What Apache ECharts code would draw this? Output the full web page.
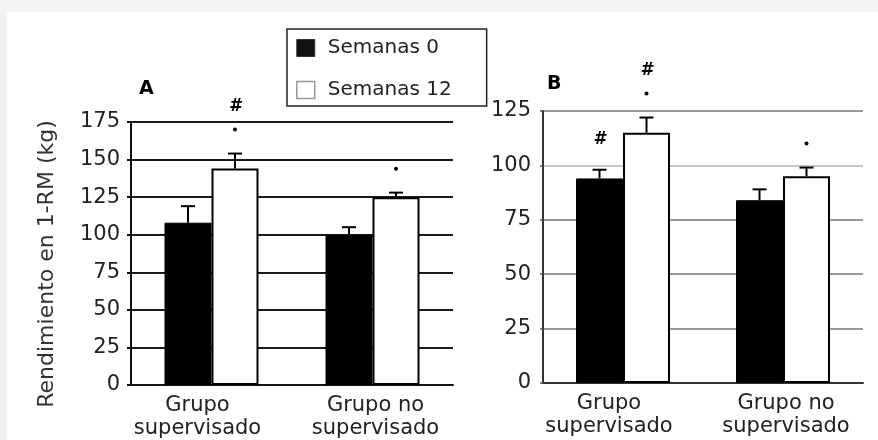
<!DOCTYPE html>
<html>
<head>
<meta charset="utf-8">
<script src="https://cdn.jsdelivr.net/npm/echarts@6/dist/echarts.min.js"></script>
<style>
html,body{margin:0;padding:0;background:#f2f2f2;}
#wrap{position:absolute;left:7px;top:12px;width:871px;height:428px;background:#fff;}
#chart{position:absolute;left:0;top:0;width:878px;height:440px;}
</style>
</head>
<body>
<div id="wrap"></div>
<div id="chart"></div>
<script>
// ---- data ----
const categories = ['Grupo\nsupervisado', 'Grupo no\nsupervisado'];
const seriesNames = ['Semanas 0', 'Semanas 12'];
// Panel A (kg)
const panelA_week0 = [108, 100];
const panelA_week0_errTop = [119, 105];
const panelA_week12 = [144, 125];
const panelA_week12_errTop = [154, 128];
const panelA_week0_sig = ['', ''];
const panelA_week12_sig = ['*#', '*'];
// Panel B (kg)
const panelB_week0 = [94, 84];
const panelB_week0_errTop = [98, 89];
const panelB_week12 = [115, 95];
const panelB_week12_errTop = [122, 99];
const panelB_week0_sig = ['#', ''];
const panelB_week12_sig = ['*#', '*'];
const yTicksA = [0, 25, 50, 75, 100, 125, 150, 175];
const yTicksB = [0, 25, 50, 75, 100, 125];

const FONT = 'DejaVu Sans';
const chart = echarts.init(document.getElementById('chart'), null, {renderer: 'canvas'});

function errSeries(name, xIdx, values, errTop, sig, offset) {
  return {
    type: 'custom', name: name, xAxisIndex: xIdx, yAxisIndex: xIdx, z: 5,
    data: values.map((v, i) => [i, v, errTop[i], sig[i]]),
    renderItem: function (params, api) {
      const i = api.value(0);
      const p0 = api.coord([i, api.value(1)]);
      const p1 = api.coord([i, api.value(2)]);
      const x = p0[0] + offset;
      const s = api.value(3) || '';
      const children = [
        {type: 'line', shape: {x1: x, y1: p0[1], x2: x, y2: p1[1]}, style: {stroke: '#000', lineWidth: 2}},
        {type: 'line', shape: {x1: x - 7, y1: p1[1], x2: x + 7, y2: p1[1]}, style: {stroke: '#000', lineWidth: 2}}
      ];
      const hasDot = s.indexOf('*') >= 0;
      if (hasDot) {
        children.push({type: 'circle', shape: {cx: x, cy: p1[1] - 24, r: 2}, style: {fill: '#000'}});
      }
      if (s.indexOf('#') >= 0) {
        children.push({type: 'text', style: {text: '#', x: x, y: p1[1] - (hasDot ? 47 : 30), align: 'center', verticalAlign: 'middle', font: 'italic bold 17px "' + FONT + '"', fill: '#000'}});
      }
      return {type: 'group', children: children};
    }
  };
}

function barSeries(name, idx, data, dark) {
  return {
    type: 'bar', name: name, xAxisIndex: idx, yAxisIndex: idx, data: data,
    barWidth: 47, barGap: '0%',
    itemStyle: dark ? {color: '#000', borderColor: '#000', borderWidth: 1}
                    : {color: '#fff', borderColor: '#000', borderWidth: 2},
    emphasis: {disabled: true}
  };
}

const labelBase = {fontFamily: FONT, fontSize: 21, color: '#222', lineHeight: 23};
const catAxis = (idx, lineColor) => ({
  type: 'category', gridIndex: idx, data: categories,
  axisLine: {lineStyle: {color: lineColor, width: 2}},
  axisTick: {show: false},
  axisLabel: Object.assign({}, labelBase, {
    margin: 9, interval: 0,
    formatter: (v, i) => v.split('\n').map(line => (i === 0 ? '{l|' : '{r|') + line + '}').join('\n'),
    rich: {
      l: Object.assign({}, labelBase, {padding: [0, 28, 0, 0]}),
      r: Object.assign({}, labelBase, {padding: [0, 0, 0, 6]})
    }
  })
});

const option = {
  animation: false,
  backgroundColor: 'transparent',
  textStyle: {fontFamily: FONT},
  legend: {
    left: 287, top: 29, orient: 'vertical',
    borderColor: '#222', borderWidth: 1.5, padding: [9, 35, 6, 9],
    itemWidth: 18, itemHeight: 17, itemGap: 22,
    textStyle: {fontFamily: FONT, fontSize: 20, color: '#222', padding: [0, 0, 0, 8]},
    data: [
      {name: seriesNames[0], icon: 'rect', itemStyle: {color: '#111', borderColor: '#333', borderWidth: 1}},
      {name: seriesNames[1], icon: 'rect', itemStyle: {color: '#fff', borderColor: '#999', borderWidth: 1.5}}
    ],
    selectedMode: false
  },
  grid: [
    {left: 131, right: 425, top: 122, bottom: 55},
    {left: 543, right: 15, top: 111, bottom: 57}
  ],
  xAxis: [catAxis(0, '#111'), catAxis(1, '#333')],
  yAxis: [
    {
      type: 'value', gridIndex: 0, min: yTicksA[0], max: yTicksA[yTicksA.length - 1], interval: 25,
      axisLine: {show: true, lineStyle: {color: '#111', width: 2}},
      axisTick: {show: true, length: 4, lineStyle: {color: '#111', width: 2}},
      axisLabel: {fontFamily: FONT, fontSize: 21, color: '#222', margin: 11},
      splitLine: {show: true, lineStyle: {color: '#1a1a1a', width: 2}}
    },
    {
      type: 'value', gridIndex: 1, min: yTicksB[0], max: yTicksB[yTicksB.length - 1], interval: 25,
      axisLine: {show: true, lineStyle: {color: '#333', width: 2}},
      axisTick: {show: true, length: 3, lineStyle: {color: '#555', width: 1.5}},
      axisLabel: {fontFamily: FONT, fontSize: 21, color: '#222', margin: 12},
      splitLine: {show: true, lineStyle: {color: ['#333', '#999', '#999', '#999', '#c4c4c4', '#999'], width: 2}}
    }
  ],
  graphic: [
    {type: 'text', left: 139, top: 80, style: {text: 'A', font: 'bold 19px "' + FONT + '"', fill: '#000'}},
    {type: 'text', left: 547, top: 75, style: {text: 'B', font: 'bold 19px "' + FONT + '"', fill: '#000'}},
    {type: 'text', x: 47, y: 264, rotation: Math.PI / 2,
     style: {text: 'Rendimiento en 1-RM (kg)', font: '22px "' + FONT + '"', fill: '#333', align: 'center', verticalAlign: 'middle'}}
  ],
  series: [
    barSeries(seriesNames[0], 0, panelA_week0, true),
    barSeries(seriesNames[1], 0, panelA_week12, false),
    barSeries(seriesNames[0], 1, panelB_week0, true),
    barSeries(seriesNames[1], 1, panelB_week12, false),
    errSeries(seriesNames[0], 0, panelA_week0, panelA_week0_errTop, panelA_week0_sig, -23.5),
    errSeries(seriesNames[1], 0, panelA_week12, panelA_week12_errTop, panelA_week12_sig, 23.5),
    errSeries(seriesNames[0], 1, panelB_week0, panelB_week0_errTop, panelB_week0_sig, -23.5),
    errSeries(seriesNames[1], 1, panelB_week12, panelB_week12_errTop, panelB_week12_sig, 23.5)
  ]
};
chart.setOption(option);
</script>
</body>
</html>
